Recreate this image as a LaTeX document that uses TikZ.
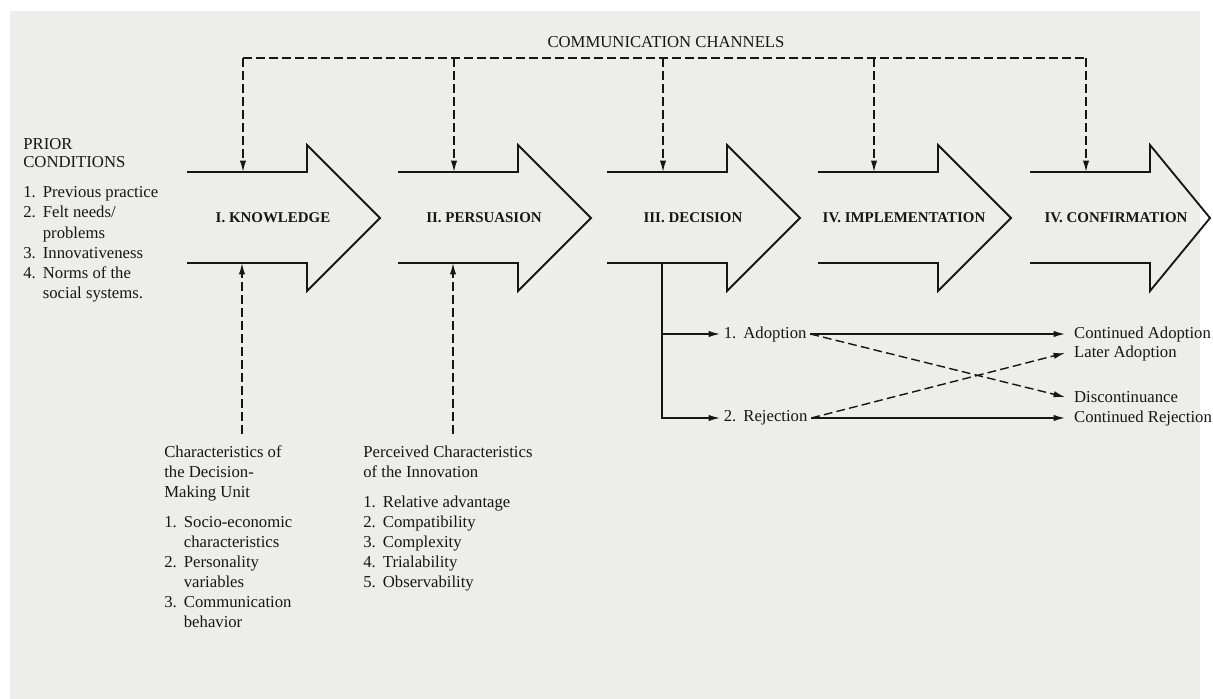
\documentclass[tikz,border=0pt]{standalone}
\usepackage{fontspec}
\setmainfont{Liberation Serif}
\usetikzlibrary{arrows.meta,positioning}
\definecolor{paper}{RGB}{237,237,235}
\definecolor{ink}{RGB}{22,22,22}

\begin{document}
\begin{tikzpicture}[x=0.02cm,y=-0.02cm,
    >={Latex[length=6.5pt,width=3.6pt]},
    every node/.style={font=\fontsize{9.5}{11.4}\selectfont,text=ink},
    stage/.style={font=\fontsize{8.5}{10}\selectfont\bfseries},
    chan/.style={draw=ink,line width=0.8pt,dash pattern=on 5pt off 2.4pt},
    flow/.style={draw=ink,line width=0.8pt},
    block/.style={anchor=base west,inner xsep=0pt,inner ysep=5pt},
    choice/.style={anchor=west,inner xsep=2pt,inner ysep=1pt},
    outcome/.style={anchor=west,inner xsep=5pt,inner ysep=1pt}]

    % paper
    \useasboundingbox (0,0) rectangle (1213,699);
    \fill[paper] (10,11) rectangle (1200,699);

    % stages
    \foreach \l/\h/\n/\t in {187/73/know/I. KNOWLEDGE, 398/73/pers/II. PERSUASION,
        607/73/dec/III. DECISION, 818/73/impl/IV. IMPLEMENTATION, 1030/60/conf/IV. CONFIRMATION}{
        \draw[ink,line width=1.05pt,line join=miter] (\l,172) -- ++(120,0) -- ++(0,-27)
            -- ++(\h,73) -- ++(-\h,73) -- ++(0,-28) -- (\l,263);
        \node[stage] (\n) at (\l+86,218) {\t};
        \coordinate (\n-top) at (\l+56,172);
        \coordinate (\n-bot) at (\l+55,263);
    }

    % communication channels
    \node (chantitle) at (666,42) {COMMUNICATION CHANNELS};
    \coordinate (chan) at (240,58);
    \draw[chan] (know-top |- chan) -- (conf-top |- chan);
    \foreach \n in {know,pers,dec,impl,conf}
        \draw[chan,->] (\n-top |- chan) -- (\n-top);

    % prior conditions
    \node[anchor=base west,inner sep=0pt] (prior) at (23,150) {\begin{tabular}[t]{@{}l@{\hspace{4pt}}l@{}}
        \multicolumn{2}{@{}l@{}}{PRIOR}\\[-1.2pt]
        \multicolumn{2}{@{}l@{}}{CONDITIONS}\\[5.7pt]
        1. & Previous practice\\
        2. & Felt needs/\\
           & problems\\
        3. & Innovativeness\\
        4. & Norms of the\\
           & social systems.
    \end{tabular}};

    % decision-making unit
    \node[block] (dmu) at (164,457) {\begin{tabular}[t]{@{}l@{\hspace{4pt}}l@{}}
        \multicolumn{2}{@{}l@{}}{Characteristics of}\\
        \multicolumn{2}{@{}l@{}}{the Decision-}\\
        \multicolumn{2}{@{}l@{}}{Making Unit}\\[5.7pt]
        1. & Socio-economic\\
           & characteristics\\
        2. & Personality\\
           & variables\\
        3. & Communication\\
           & behavior
    \end{tabular}};
    \draw[chan,->] (dmu.north -| know-bot) -- (know-bot);

    % innovation
    \node[block] (innov) at (363,457) {\begin{tabular}[t]{@{}l@{\hspace{4pt}}l@{}}
        \multicolumn{2}{@{}l@{}}{Perceived Characteristics}\\
        \multicolumn{2}{@{}l@{}}{of the Innovation}\\[5.7pt]
        1. & Relative advantage\\
        2. & Compatibility\\
        3. & Complexity\\
        4. & Trialability\\
        5. & Observability
    \end{tabular}};
    \draw[chan,->] (innov.north -| pers-bot) -- (pers-bot);

    % adoption / rejection
    \node[choice] (adopt) at (720,334) {1.\hspace{4pt}Adoption};
    \node[choice] (reject) at (720,418) {2.\hspace{4pt}Rejection};
    \draw[flow,->] (dec-bot) |- (adopt.west);
    \draw[flow,->] (dec-bot) |- (reject.west);

    % outcomes
    \node[outcome] (contadopt) at (1065,334) {Continued Adoption};
    \node[outcome] (later) at (1065,353) {Later Adoption};
    \node[outcome] (discont) at (1065,397) {Discontinuance};
    \node[outcome] (contreject) at (1065,418) {Continued Rejection};
    \draw[flow,->] (adopt.east) -- (contadopt.west);
    \draw[flow,->] (reject.east) -- (contreject.west);
    \draw[chan,->] (adopt.east) -- (discont.west);
    \draw[chan,->] (reject.east) -- (later.west);

\end{tikzpicture}
\end{document}
